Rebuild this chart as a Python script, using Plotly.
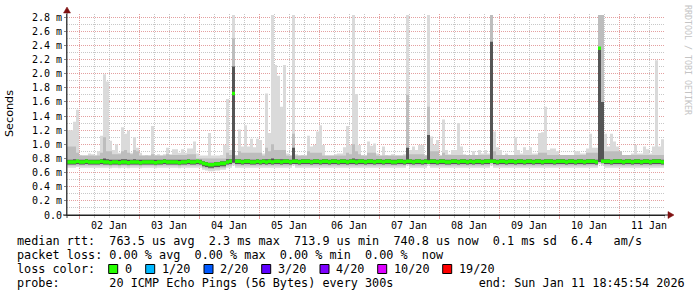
import plotly.graph_objects as go
import pandas as pd

# ---------------- data (values in ms) ----------------
bin_start = "2026-01-01 19:12"
bin_minutes = 72
x_range = ["2026-01-01 19:12", "2026-01-11 18:24"]

day_labels = ["02 Jan", "03 Jan", "04 Jan", "05 Jan", "06 Jan",
              "07 Jan", "08 Jan", "09 Jan", "10 Jan", "11 Jan"]
day_label_pos = ["2026-01-02 12:00", "2026-01-03 12:00", "2026-01-04 12:00", "2026-01-05 12:00",
                 "2026-01-06 12:00", "2026-01-07 12:00", "2026-01-08 12:00", "2026-01-09 12:00",
                 "2026-01-10 12:00", "2026-01-11 12:00"]

y_tick_vals = [0.0, 0.2, 0.4, 0.6, 0.8, 1.0, 1.2, 1.4, 1.6, 1.8, 2.0, 2.2, 2.4, 2.6, 2.8]
y_tick_text = ["0.0", "0.2 m", "0.4 m", "0.6 m", "0.8 m", "1.0 m", "1.2 m", "1.4 m",
               "1.6 m", "1.8 m", "2.0 m", "2.2 m", "2.4 m", "2.6 m", "2.8 m"]

rtt_max = [
    1.20, 1.20, 1.32, 1.49, 0.85, 0.84, 0.84, 0.87, 0.86, 0.84, 0.90, 1.12, 1.99, 1.89, 1.05, 0.92, 1.00, 0.88, 1.24, 1.15,
    1.19, 0.88, 1.10, 0.95, 0.88, 0.84, 0.85, 0.84, 1.26, 0.85, 0.86, 0.84, 0.86, 0.95, 0.86, 0.93, 0.93, 0.88, 0.93, 0.88,
    0.94, 0.94, 1.04, 0.87, 0.84, 0.84, 0.84, 1.16, 0.84, 0.84, 0.84, 0.85, 0.99, 1.64, 0.92, 2.83, 0.85, 1.21, 0.97, 1.27,
    0.97, 1.08, 0.96, 1.08, 1.06, 0.87, 1.72, 1.16, 2.83, 2.12, 1.97, 1.53, 2.12, 0.87, 0.84, 2.83, 0.86, 0.84, 0.85, 0.84,
    1.12, 0.97, 0.99, 1.18, 1.27, 0.99, 0.84, 0.84, 0.84, 0.86, 0.87, 0.87, 0.96, 1.26, 0.99, 2.83, 1.71, 0.99, 0.85, 0.84,
    1.04, 0.98, 1.01, 0.87, 0.84, 0.97, 0.85, 0.84, 0.86, 0.84, 0.84, 0.84, 0.86, 2.83, 0.92, 0.97, 0.92, 0.99, 0.99, 0.85,
    2.83, 1.11, 0.99, 1.06, 0.84, 1.35, 0.92, 0.86, 0.92, 0.92, 1.30, 0.97, 0.86, 0.84, 0.84, 0.90, 0.84, 0.92, 0.87, 0.92,
    0.87, 2.83, 1.18, 0.96, 0.92, 0.85, 0.87, 0.84, 0.84, 1.10, 0.92, 0.87, 0.96, 0.92, 0.96, 0.87, 0.87, 1.16, 1.17, 1.53,
    0.92, 0.94, 0.94, 0.90, 0.84, 0.84, 0.85, 0.85, 0.84, 0.90, 0.90, 0.87, 0.87, 0.94, 1.15, 0.95, 0.95, 2.83, 2.83, 1.15,
    0.97, 1.15, 1.04, 0.97, 0.90, 0.84, 0.83, 0.83, 0.87, 0.99, 0.87, 0.87, 0.97, 0.93, 0.87, 0.97, 2.19, 0.97, 1.07,
]

rtt_p80 = [
    0.97, 0.97, 0.97, 0.88, 0.84, 0.84, 0.84, 0.84, 0.84, 0.84, 0.84, 0.88, 1.10, 0.90, 0.90, 0.86, 0.86, 0.86, 0.90, 0.92,
    0.88, 0.86, 0.92, 0.90, 0.84, 0.84, 0.84, 0.84, 0.86, 0.84, 0.84, 0.84, 0.84, 0.86, 0.85, 0.85, 0.85, 0.85, 0.85, 0.85,
    0.86, 0.86, 0.86, 0.80, 0.80, 0.80, 0.80, 0.80, 0.80, 0.80, 0.80, 0.80, 0.80, 0.88, 0.85, 2.50, 0.84, 0.90, 0.88, 0.88,
    0.88, 0.88, 0.88, 0.88, 0.88, 0.84, 0.95, 0.90, 1.00, 0.92, 0.92, 0.92, 0.92, 0.84, 0.84, 1.15, 0.84, 0.84, 0.84, 0.84,
    0.90, 0.88, 0.88, 0.88, 0.88, 0.84, 0.84, 0.84, 0.84, 0.84, 0.84, 0.84, 0.84, 0.88, 0.86, 1.00, 0.90, 0.86, 0.84, 0.84,
    0.88, 0.88, 0.88, 0.84, 0.84, 0.84, 0.84, 0.84, 0.84, 0.84, 0.84, 0.84, 0.84, 1.70, 0.86, 0.86, 0.86, 0.86, 0.86, 0.84,
    1.53, 0.90, 0.90, 0.90, 0.84, 0.88, 0.85, 0.85, 0.85, 0.85, 0.85, 0.85, 0.85, 0.85, 0.85, 0.85, 0.85, 0.85, 0.85, 0.85,
    0.85, 2.83, 0.90, 0.85, 0.85, 0.85, 0.85, 0.85, 0.85, 0.85, 0.85, 0.85, 0.85, 0.85, 0.85, 0.85, 0.85, 0.88, 0.88, 0.88,
    0.85, 0.85, 0.85, 0.85, 0.85, 0.85, 0.85, 0.85, 0.85, 0.85, 0.85, 0.85, 0.85, 0.88, 0.88, 0.88, 0.88, 2.83, 2.83, 0.90,
    0.90, 0.90, 0.90, 0.90, 0.90, 0.85, 0.85, 0.85, 0.85, 0.85, 0.85, 0.85, 0.85, 0.85, 0.85, 0.85, 0.85, 0.85, 0.85,
]

rtt_p60 = [
    0.78, 0.78, 0.79, 0.78, 0.78, 0.78, 0.79, 0.78, 0.78, 0.78, 0.78, 0.79, 0.80, 0.79, 0.78, 0.78, 0.78, 0.78, 0.79, 0.79,
    0.78, 0.78, 0.79, 0.78, 0.78, 0.78, 0.78, 0.78, 0.78, 0.78, 0.78, 0.78, 0.79, 0.78, 0.78, 0.78, 0.78, 0.78, 0.78, 0.78,
    0.79, 0.78, 0.78, 0.78, 0.78, 0.76, 0.75, 0.74, 0.74, 0.75, 0.75, 0.76, 0.76, 0.79, 0.79, 2.10, 0.79, 0.79, 0.78, 0.79,
    0.79, 0.78, 0.78, 0.79, 0.78, 0.79, 0.79, 0.79, 0.80, 0.79, 0.79, 0.79, 0.79, 0.79, 0.78, 0.95, 0.79, 0.78, 0.79, 0.79,
    0.79, 0.78, 0.79, 0.79, 0.78, 0.79, 0.79, 0.78, 0.79, 0.79, 0.78, 0.79, 0.79, 0.78, 0.79, 0.80, 0.79, 0.79, 0.79, 0.78,
    0.79, 0.79, 0.78, 0.79, 0.79, 0.78, 0.79, 0.79, 0.78, 0.78, 0.79, 0.79, 0.78, 0.95, 0.79, 0.78, 0.79, 0.79, 0.78, 0.79,
    1.13, 0.79, 0.79, 0.78, 0.79, 0.79, 0.78, 0.78, 0.79, 0.79, 0.78, 0.79, 0.79, 0.78, 0.79, 0.78, 0.79, 0.79, 0.78, 0.79,
    0.79, 2.45, 0.79, 0.78, 0.79, 0.79, 0.78, 0.79, 0.79, 0.78, 0.79, 0.79, 0.78, 0.79, 0.79, 0.78, 0.79, 0.79, 0.78, 0.79,
    0.79, 0.79, 0.78, 0.79, 0.79, 0.79, 0.78, 0.79, 0.79, 0.78, 0.79, 0.79, 0.78, 0.79, 0.79, 0.79, 0.78, 2.36, 1.60, 0.79,
    0.79, 0.78, 0.79, 0.79, 0.79, 0.78, 0.79, 0.79, 0.78, 0.79, 0.79, 0.78, 0.79, 0.79, 0.78, 0.79, 0.79, 0.79, 0.78,
]

rtt_p40 = [
    0.715, 0.715, 0.715, 0.72, 0.715, 0.715, 0.72, 0.715, 0.715, 0.715, 0.715, 0.72, 0.715, 0.715, 0.71, 0.715, 0.715, 0.71, 0.715, 0.715,
    0.71, 0.715, 0.715, 0.715, 0.71, 0.715, 0.715, 0.715, 0.715, 0.71, 0.715, 0.715, 0.72, 0.715, 0.715, 0.715, 0.715, 0.71, 0.715, 0.715,
    0.72, 0.715, 0.715, 0.72, 0.715, 0.69, 0.68, 0.67, 0.67, 0.68, 0.68, 0.69, 0.69, 0.715, 0.72, 0.74, 0.72, 0.72, 0.715, 0.72,
    0.72, 0.715, 0.715, 0.72, 0.715, 0.72, 0.715, 0.72, 0.715, 0.72, 0.72, 0.715, 0.72, 0.72, 0.715, 0.72, 0.72, 0.715, 0.72, 0.72,
    0.72, 0.715, 0.72, 0.72, 0.715, 0.72, 0.72, 0.715, 0.72, 0.72, 0.715, 0.72, 0.72, 0.715, 0.72, 0.72, 0.715, 0.72, 0.72, 0.715,
    0.72, 0.72, 0.715, 0.72, 0.72, 0.715, 0.72, 0.72, 0.715, 0.715, 0.72, 0.72, 0.715, 0.72, 0.72, 0.715, 0.72, 0.72, 0.715, 0.72,
    0.72, 0.72, 0.72, 0.715, 0.72, 0.72, 0.715, 0.715, 0.72, 0.72, 0.715, 0.72, 0.72, 0.715, 0.72, 0.715, 0.72, 0.72, 0.715, 0.72,
    0.72, 0.74, 0.72, 0.715, 0.72, 0.72, 0.715, 0.72, 0.72, 0.715, 0.72, 0.72, 0.715, 0.72, 0.72, 0.715, 0.72, 0.72, 0.715, 0.72,
    0.72, 0.72, 0.715, 0.72, 0.72, 0.72, 0.715, 0.72, 0.72, 0.715, 0.72, 0.72, 0.715, 0.72, 0.72, 0.72, 0.715, 0.75, 0.74, 0.72,
    0.72, 0.715, 0.72, 0.72, 0.72, 0.715, 0.72, 0.72, 0.715, 0.72, 0.72, 0.715, 0.72, 0.72, 0.715, 0.72, 0.72, 0.72, 0.715,
]

rtt_p20 = [
    0.70, 0.70, 0.70, 0.70, 0.70, 0.70, 0.70, 0.70, 0.70, 0.70, 0.70, 0.70, 0.70, 0.70, 0.69, 0.70, 0.70, 0.69, 0.70, 0.70,
    0.69, 0.70, 0.70, 0.70, 0.69, 0.70, 0.70, 0.70, 0.70, 0.69, 0.70, 0.70, 0.70, 0.70, 0.70, 0.70, 0.70, 0.69, 0.70, 0.70,
    0.70, 0.70, 0.70, 0.70, 0.70, 0.67, 0.66, 0.65, 0.65, 0.66, 0.66, 0.67, 0.67, 0.70, 0.70, 0.73, 0.70, 0.70, 0.70, 0.70,
    0.70, 0.70, 0.70, 0.70, 0.70, 0.70, 0.70, 0.70, 0.70, 0.70, 0.70, 0.70, 0.70, 0.70, 0.70, 0.72, 0.70, 0.70, 0.70, 0.70,
    0.70, 0.70, 0.70, 0.70, 0.70, 0.70, 0.70, 0.70, 0.70, 0.70, 0.70, 0.70, 0.70, 0.70, 0.70, 0.70, 0.70, 0.70, 0.70, 0.70,
    0.70, 0.70, 0.70, 0.70, 0.70, 0.70, 0.70, 0.70, 0.70, 0.70, 0.70, 0.70, 0.70, 0.72, 0.70, 0.70, 0.70, 0.70, 0.70, 0.70,
    0.72, 0.70, 0.70, 0.70, 0.70, 0.70, 0.70, 0.70, 0.70, 0.70, 0.70, 0.70, 0.70, 0.70, 0.70, 0.70, 0.70, 0.70, 0.70, 0.70,
    0.70, 0.73, 0.70, 0.70, 0.70, 0.70, 0.70, 0.70, 0.70, 0.70, 0.70, 0.70, 0.70, 0.70, 0.70, 0.70, 0.70, 0.70, 0.70, 0.70,
    0.70, 0.70, 0.70, 0.70, 0.70, 0.70, 0.70, 0.70, 0.70, 0.70, 0.70, 0.70, 0.70, 0.70, 0.70, 0.70, 0.70, 0.74, 0.72, 0.70,
    0.70, 0.70, 0.70, 0.70, 0.70, 0.70, 0.70, 0.70, 0.70, 0.70, 0.70, 0.70, 0.70, 0.70, 0.70, 0.70, 0.70, 0.70, 0.70,
]

rtt_min = [
    0.67, 0.67, 0.67, 0.68, 0.67, 0.67, 0.67, 0.67, 0.67, 0.67, 0.67, 0.67, 0.67, 0.67, 0.66, 0.67, 0.67, 0.66, 0.67, 0.67,
    0.66, 0.67, 0.67, 0.67, 0.66, 0.67, 0.67, 0.67, 0.67, 0.66, 0.67, 0.67, 0.67, 0.67, 0.67, 0.67, 0.67, 0.66, 0.67, 0.67,
    0.67, 0.67, 0.67, 0.67, 0.67, 0.64, 0.63, 0.62, 0.62, 0.63, 0.63, 0.64, 0.64, 0.67, 0.67, 0.70, 0.67, 0.67, 0.67, 0.67,
    0.67, 0.67, 0.67, 0.67, 0.67, 0.67, 0.67, 0.67, 0.67, 0.67, 0.67, 0.67, 0.67, 0.67, 0.67, 0.70, 0.67, 0.67, 0.67, 0.67,
    0.67, 0.67, 0.67, 0.67, 0.67, 0.67, 0.67, 0.67, 0.67, 0.67, 0.67, 0.67, 0.67, 0.67, 0.67, 0.67, 0.67, 0.67, 0.67, 0.67,
    0.67, 0.67, 0.67, 0.67, 0.67, 0.67, 0.67, 0.67, 0.67, 0.67, 0.67, 0.67, 0.67, 0.70, 0.67, 0.67, 0.67, 0.67, 0.67, 0.67,
    0.70, 0.67, 0.67, 0.67, 0.67, 0.67, 0.67, 0.67, 0.67, 0.67, 0.67, 0.67, 0.67, 0.67, 0.67, 0.67, 0.67, 0.67, 0.67, 0.67,
    0.67, 0.70, 0.67, 0.67, 0.67, 0.67, 0.67, 0.67, 0.67, 0.67, 0.67, 0.67, 0.67, 0.67, 0.67, 0.67, 0.67, 0.67, 0.67, 0.67,
    0.67, 0.67, 0.67, 0.67, 0.67, 0.67, 0.67, 0.67, 0.67, 0.67, 0.67, 0.67, 0.67, 0.67, 0.67, 0.67, 0.67, 0.72, 0.70, 0.67,
    0.67, 0.67, 0.67, 0.67, 0.67, 0.67, 0.67, 0.67, 0.67, 0.67, 0.67, 0.67, 0.67, 0.67, 0.67, 0.67, 0.67, 0.67, 0.67,
]

rtt_median = [
    0.75, 0.75, 0.75, 0.76, 0.75, 0.75, 0.76, 0.75, 0.75, 0.75, 0.75, 0.76, 0.75, 0.75, 0.74, 0.75, 0.75, 0.74, 0.75, 0.75,
    0.74, 0.75, 0.75, 0.75, 0.74, 0.75, 0.75, 0.75, 0.75, 0.74, 0.75, 0.75, 0.76, 0.75, 0.75, 0.75, 0.75, 0.74, 0.75, 0.75,
    0.76, 0.75, 0.75, 0.76, 0.75, 0.73, 0.72, 0.71, 0.71, 0.72, 0.72, 0.73, 0.73, 0.75, 0.76, 1.72, 0.76, 0.76, 0.75, 0.76,
    0.76, 0.75, 0.75, 0.76, 0.75, 0.76, 0.75, 0.76, 0.75, 0.76, 0.76, 0.75, 0.76, 0.76, 0.75, 0.76, 0.76, 0.75, 0.76, 0.76,
    0.76, 0.75, 0.76, 0.76, 0.75, 0.76, 0.76, 0.75, 0.76, 0.76, 0.75, 0.76, 0.76, 0.75, 0.76, 0.76, 0.75, 0.76, 0.76, 0.75,
    0.76, 0.76, 0.75, 0.76, 0.76, 0.75, 0.76, 0.76, 0.75, 0.75, 0.76, 0.76, 0.75, 0.76, 0.76, 0.75, 0.76, 0.76, 0.75, 0.76,
    0.75, 0.76, 0.76, 0.75, 0.76, 0.76, 0.75, 0.75, 0.76, 0.76, 0.75, 0.76, 0.76, 0.75, 0.76, 0.75, 0.76, 0.76, 0.75, 0.76,
    0.76, 0.76, 0.76, 0.75, 0.76, 0.76, 0.75, 0.76, 0.76, 0.75, 0.76, 0.76, 0.75, 0.76, 0.76, 0.75, 0.76, 0.76, 0.75, 0.76,
    0.76, 0.76, 0.75, 0.76, 0.76, 0.76, 0.75, 0.76, 0.76, 0.75, 0.76, 0.76, 0.75, 0.76, 0.76, 0.76, 0.75, 2.36, 0.76, 0.76,
    0.76, 0.75, 0.76, 0.76, 0.76, 0.75, 0.76, 0.76, 0.75, 0.76, 0.76, 0.75, 0.76, 0.76, 0.75, 0.76, 0.76, 0.76, 0.75,
]

loss_labels = ["0", "1/20", "2/20", "3/20", "4/20", "10/20", "19/20"]
loss_colors = ["#26ff00", "#00b8ff", "#0059ff", "#5e00ff", "#7e00ff", "#dd00ff", "#ff0000"]

stats_line1 = "median rtt:  763.5 us avg  2.3 ms max  713.9 us min  740.8 us now  0.1 ms sd  6.4   am/s"
stats_line2 = "packet loss: 0.00 % avg  0.00 % max  0.00 % min  0.00 %  now"
stats_line3 = "loss color:"
stats_line4 = "probe:       20 ICMP Echo Pings (56 Bytes) every 300s            end: Sun Jan 11 18:45:54 2026"

# ---------------- geometry helpers (pixel -> paper) ----------------
W, H = 697, 297
L, R, T, B = 67, 32, 14, 82
PW, PH = W - L - R, H - T - B


def px(xp):
    return (xp - L) / PW


def py(yp):
    return (H - B - yp) / PH


n = len(rtt_max)
edges = pd.date_range(bin_start, periods=n + 1, freq=f"{bin_minutes}min")

fig = go.Figure()


def band(lo, hi, color):
    xs = list(edges)
    fig.add_trace(go.Scatter(x=xs, y=list(lo) + [lo[-1]], mode="lines",
                             line=dict(width=0, shape="hv"), hoverinfo="skip", showlegend=False))
    fig.add_trace(go.Scatter(x=xs, y=list(hi) + [hi[-1]], mode="lines",
                             line=dict(width=0, shape="hv"), fill="tonexty", fillcolor=color,
                             hoverinfo="skip", showlegend=False))


band(rtt_min, rtt_max, "#dadada")
band(rtt_p20, rtt_p80, "#bdbdbd")
band(rtt_p40, rtt_p60, "#555555")
# median line (loss colour 0 = no loss), drawn as a ~3.5 px high step band
half = 0.025
band([m - half for m in rtt_median], [m + half for m in rtt_median], loss_colors[0])

mono = "DejaVu Sans Mono"
red_grid = "rgb(228,160,160)"
grey_grid = "rgb(200,200,200)"

fig.update_layout(
    width=W, height=H, margin=dict(l=L, r=R, t=T, b=B),
    paper_bgcolor="white", plot_bgcolor="white",
    showlegend=False,
    font=dict(family=mono, size=10, color="black"),
    xaxis=dict(
        type="date", range=x_range, tickmode="linear", tick0="2026-01-02", dtick=86400000,
        showticklabels=False, showgrid=True, gridcolor=red_grid, griddash="1px,1px", gridwidth=1,
        ticks="outside", ticklen=3, tickcolor=red_grid,
        minor=dict(dtick=21600000, tick0="2026-01-02", showgrid=True, gridcolor=grey_grid,
                   griddash="1px,1px", ticks="outside", ticklen=2, tickcolor=grey_grid),
        showline=True, linecolor="#222", linewidth=1, zeroline=False, fixedrange=True,
    ),
    yaxis=dict(
        range=[0, 2.843], tickmode="array", tickvals=y_tick_vals, ticktext=y_tick_text,
        showgrid=True, gridcolor=red_grid, griddash="1px,1px", gridwidth=1,
        ticks="outside", ticklen=2, tickcolor="#888",
        minor=dict(tickvals=[0.1 + 0.2 * i for i in range(14)], showgrid=True,
                   gridcolor=grey_grid, griddash="1px,1px"),
        showline=True, linecolor="#444", linewidth=1, zeroline=False,
        tickfont=dict(family=mono, size=10), fixedrange=True,
    ),
)

ann = []
for lab, pos in zip(day_labels, day_label_pos):
    ann.append(dict(x=pos, y=py(225), xref="x", yref="paper", text=lab, showarrow=False,
                    xanchor="center", yanchor="middle", font=dict(family=mono, size=10)))

ann.append(dict(x=px(10), y=py(114), xref="paper", yref="paper", text="Seconds", textangle=-90,
                showarrow=False, xanchor="center", yanchor="middle",
                font=dict(family="DejaVu Sans", size=11.2)))
ann.append(dict(x=px(688), y=py(60), xref="paper", yref="paper", text="RRDTOOL / TOBI OETIKER",
                textangle=90, showarrow=False, xanchor="center", yanchor="middle",
                font=dict(family=mono, size=8.3, color="#c4c4c4")))

nb = "\u00a0"
for txt, yc in [(stats_line1, 241), (stats_line2, 255), (stats_line3, 269), (stats_line4, 283)]:
    ann.append(dict(x=px(16), y=py(yc), xref="paper", yref="paper", text=txt.replace(" ", nb),
                    showarrow=False, xanchor="left", yanchor="middle", borderpad=0,
                    font=dict(family=mono, size=11.8, color="black")))

sq_left = [108.7, 145.7, 204.0, 261.7, 320.0, 377.7, 442.7]
shapes = []
for lab, col, sx in zip(loss_labels, loss_colors, sq_left):
    shapes.append(dict(type="rect", xref="paper", yref="paper", x0=px(sx), x1=px(sx + 9),
                       y0=py(273.5), y1=py(264.5), fillcolor=col, line=dict(color="black", width=1)))
    ann.append(dict(x=px(sx + 15.3), y=py(269), xref="paper", yref="paper", text=lab,
                    showarrow=False, xanchor="left", yanchor="middle", borderpad=0,
                    font=dict(family=mono, size=11.8, color="black")))

# axis extensions and arrow heads
shapes.append(dict(type="line", xref="paper", yref="paper", x0=px(67), x1=px(67), y0=py(218), y1=py(12),
                   line=dict(color="#444", width=1)))
shapes.append(dict(type="line", xref="paper", yref="paper", x0=px(63), x1=px(669), y0=py(215), y1=py(215),
                   line=dict(color="#222", width=1)))
shapes.append(dict(type="path", xref="paper", yref="paper",
                   path=f"M {px(63.5)},{py(13)} L {px(70.5)},{py(13)} L {px(67)},{py(7)} Z",
                   fillcolor="#7f1010", line=dict(color="#7f1010", width=0.5)))
shapes.append(dict(type="path", xref="paper", yref="paper",
                   path=f"M {px(668)},{py(211.5)} L {px(668)},{py(218.5)} L {px(674)},{py(215)} Z",
                   fillcolor="#7f1010", line=dict(color="#7f1010", width=0.5)))

fig.update_layout(annotations=ann, shapes=shapes)
fig.write_html("out.html")
